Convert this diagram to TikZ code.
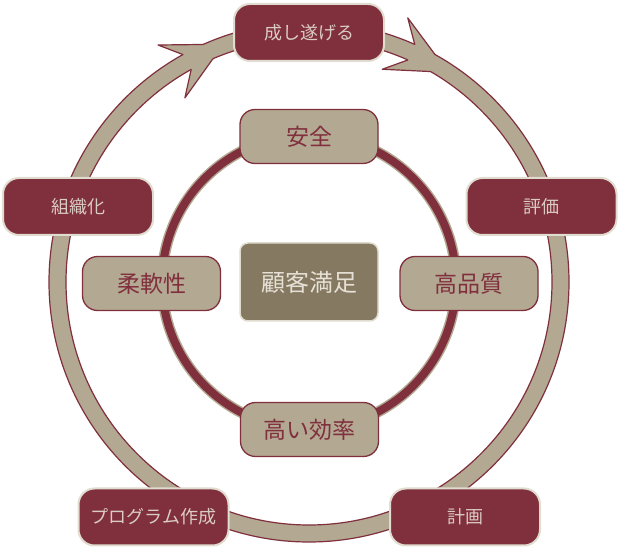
\documentclass[tikz,border=0pt]{standalone}
\usepackage{fontspec}
\newfontfamily\jpfont{Noto Sans CJK JP}
\definecolor{wine}{RGB}{128,47,61}
\definecolor{sand}{RGB}{179,168,146}
\definecolor{olive}{RGB}{133,122,97}
\definecolor{pale}{RGB}{224,220,207}
\definecolor{blush}{RGB}{218,204,194}
\definecolor{cream}{RGB}{230,224,214}
\begin{document}
\begin{tikzpicture}[x=1pt,y=1pt,line join=round,line cap=round,font=\jpfont,
outerbox/.style={draw=pale,fill=wine,line width=2pt,rounded corners=16pt,minimum width=150pt,minimum height=57pt,text=blush,font=\jpfont\fontsize{18}{18}\selectfont},
innerbox/.style={draw=wine,fill=sand,line width=1.3pt,rounded corners=15pt,minimum width=138pt,minimum height=54pt,text=wine,font=\jpfont\fontsize{23}{23}\selectfont}]
\useasboundingbox (0,0) rectangle (619,549);
\coordinate (O) at (309,267);
% outer ring
\draw[wine,fill=sand,line width=1.2pt,even odd rule] (O) circle (260pt) (O) circle (243pt);
% arrow heads
\begin{scope}[shift={(O)}]
\fill[sand] (119:260)--(122.5:281)--(114:260)--(113.3:243)--(124:222)--(119:243)--cycle;
\draw[wine,line width=1.2pt] (119:260)--(122.5:281)--(114:260) (119:243)--(124:222)--(113.3:243);
\fill[sand] (66:260)--(69.5:282)--(61:260)--(60:243)--(71:225)--(66:243)--cycle;
\draw[wine,line width=1.2pt] (66:260)--(69.5:282)--(61:260) (66:243)--(71:225)--(60:243);
\end{scope}
% inner ring
\draw[sand,line width=11pt] (O) circle (147pt);
\draw[wine,line width=8pt] (O) circle (147pt);
% boxes
\node[outerbox] (achieve) at (309,516.5) {成し遂げる};
\node[outerbox] (organize) at (78,342.5) {組織化};
\node[outerbox] (evaluate) at (541.5,342.5) {評価};
\node[outerbox] (program) at (153.5,32) {プログラム作成};
\node[outerbox] (plan) at (465,32) {計画};
\node[innerbox] (safety) at (309,412.5) {安全};
\node[innerbox] (flexible) at (151.5,265.5) {柔軟性};
\node[innerbox] (quality) at (469,265.5) {高品質};
\node[innerbox] (efficient) at (309.5,119.5) {高い効率};
\node[draw=pale,fill=olive,line width=1.5pt,rounded corners=8pt,minimum width=138pt,minimum height=78pt,text=cream,font=\jpfont\fontsize{24}{24}\selectfont] (satisfy) at (O) {顧客満足};
\end{tikzpicture}
\end{document}
